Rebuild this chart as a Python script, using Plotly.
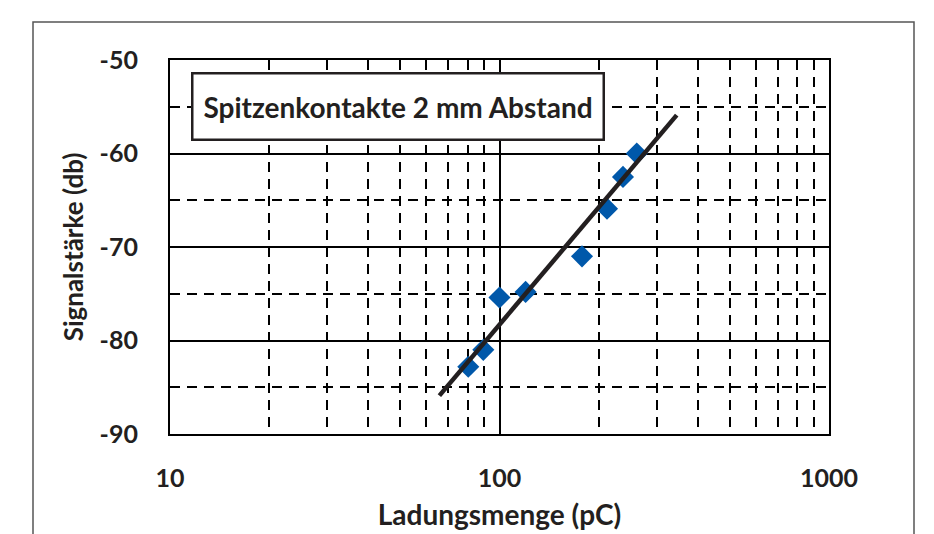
import plotly.graph_objects as go

# Data
charge_pc = [80.4, 89.3, 100, 120, 178, 212, 237, 261]
signal_db = [-82.8, -81.0, -75.4, -74.8, -71.0, -65.9, -62.5, -60.0]
fit_x = [65.7, 345]
fit_y = [-85.9, -55.9]
x_ticks = [10, 100, 1000]
x_tick_labels = ["10", "100", "1000"]
y_ticks = [-90, -80, -70, -60, -50]
y_tick_labels = ["-90", "-80", "-70", "-60", "-50"]
legend_text = "Spitzenkontakte 2 mm Abstand"
x_title = "Ladungsmenge (pC)"
y_title = "Signalstärke (db)"

FONT = "Lato"
TXT = "#231f20"
W, H = 934, 534
L, R, T, B = 170, 105, 60, 100
PW, PH = W - L - R, H - T - B

def px(xp):
    return (xp - L) / PW

def py(yp):
    return (H - B - yp) / PH

fig = go.Figure()
fig.add_trace(go.Scatter(
    x=charge_pc, y=signal_db, mode="markers",
    marker=dict(symbol="diamond", size=17, color="#0058aa", line=dict(width=0)),
    showlegend=False, hoverinfo="skip"))
fig.add_trace(go.Scatter(
    x=fit_x, y=fit_y, mode="lines",
    line=dict(color=TXT, width=4.5),
    showlegend=False, hoverinfo="skip"))

DASH = "10px,7px"
fig.update_layout(
    width=W, height=H,
    margin=dict(l=L, r=R, t=T, b=B),
    paper_bgcolor="white", plot_bgcolor="white",
    font=dict(family=FONT, color=TXT, size=22),
    xaxis=dict(
        type="log", range=[1, 3], automargin=False,
        tickvals=x_ticks, ticktext=x_tick_labels,
        showgrid=True, gridcolor="black", gridwidth=2.2,
        minor=dict(dtick="D1", showgrid=True, gridcolor="black", gridwidth=2.2,
                   griddash=DASH, ticks=""),
        showline=True, linecolor="black", linewidth=2.2, mirror=True,
        ticks="", ticklabelstandoff=21,
        tickfont=dict(family=FONT, size=25, color=TXT, weight="bold"),
        title=dict(text=x_title, standoff=14,
                   font=dict(family=FONT, size=28, color=TXT, weight="bold")),
        zeroline=False,
    ),
    yaxis=dict(
        range=[-90, -50], tickvals=y_ticks, ticktext=y_tick_labels,
        automargin=False,
        showgrid=True, gridcolor="black", gridwidth=2.2,
        minor=dict(dtick=5, showgrid=True, gridcolor="black", gridwidth=2.2,
                   griddash=DASH, ticks=""),
        showline=True, linecolor="black", linewidth=2.2, mirror=True,
        ticks="", ticklabelstandoff=25,
        tickfont=dict(family=FONT, size=25, color=TXT, weight="bold"),
        title=dict(text=y_title, standoff=8,
                   font=dict(family=FONT, size=26, color=TXT, weight="bold")),
        zeroline=False,
    ),
    shapes=[dict(type="rect", xref="paper", yref="paper",
                 x0=px(33), x1=px(914), y0=py(560), y1=py(22),
                 line=dict(color="#555555", width=1.5), layer="below")],
    annotations=[dict(
        xref="paper", yref="paper",
        x=px(397.5), y=py(106), xanchor="center", yanchor="middle",
        text=legend_text, showarrow=False,
        width=407, height=62,
        bgcolor="white", bordercolor=TXT, borderwidth=2.5, borderpad=1,
        font=dict(family=FONT, size=28, color=TXT, weight="bold"))],
)

fig.write_html("out.html")
